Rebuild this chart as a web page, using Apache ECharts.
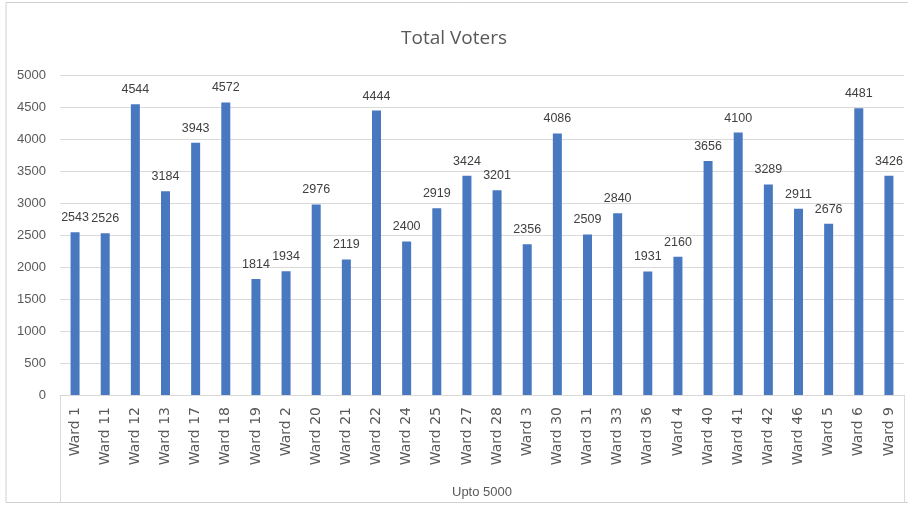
<!DOCTYPE html>
<html>
<head>
<meta charset="utf-8">
<script src="https://cdn.jsdelivr.net/npm/echarts@6/dist/echarts.min.js"></script>
<style>
html,body{margin:0;padding:0;background:#fff;}
#chart{width:908px;height:511px;}
</style>
</head>
<body>
<div id="chart"></div>
<script>
const categories = ['Ward 1','Ward 11','Ward 12','Ward 13','Ward 17','Ward 18','Ward 19','Ward 2','Ward 20','Ward 21','Ward 22','Ward 24','Ward 25','Ward 27','Ward 28','Ward 3','Ward 30','Ward 31','Ward 33','Ward 36','Ward 4','Ward 40','Ward 41','Ward 42','Ward 46','Ward 5','Ward 6','Ward 9'];
const voters = [2543,2526,4544,3184,3943,4572,1814,1934,2976,2119,4444,2400,2919,3424,3201,2356,4086,2509,2840,1931,2160,3656,4100,3289,2911,2676,4481,3426];
const groupLabels = ['Upto 5000'];
const yTicks = {min: 0, max: 5000, interval: 500};

const chart = echarts.init(document.getElementById('chart'));
const FONT = 'Liberation Sans';
chart.setOption({
  animation: false,
  backgroundColor: '#fff',
  title: {
    text: 'Total Voters',
    left: 'center',
    top: 24,
    textStyle: {fontFamily: 'Open Sans', fontSize: 19, fontWeight: 'normal', color: '#595959'}
  },
  grid: {left: 60, right: 4, top: 75, bottom: 116, containLabel: false},
  xAxis: [{
    type: 'category',
    data: categories,
    axisLine: {show: true, lineStyle: {color: '#d9d9d9'}},
    axisTick: {show: false},
    axisLabel: {rotate: 90, interval: 0, fontFamily: 'DejaVu Sans', fontSize: 14, color: '#595959', margin: 12}
  }, {
    type: 'category',
    data: groupLabels,
    position: 'bottom',
    offset: 108,
    axisLine: {show: false},
    axisTick: {show: true, inside: true, length: 108, lineStyle: {color: '#d9d9d9'}},
    axisLabel: {inside: true, margin: 4, fontFamily: FONT, fontSize: 13, color: '#595959'}
  }],
  yAxis: {
    type: 'value',
    min: yTicks.min, max: yTicks.max, interval: yTicks.interval,
    axisLine: {show: false},
    axisTick: {show: false},
    splitLine: {lineStyle: {color: '#d9d9d9'}},
    axisLabel: {fontFamily: FONT, fontSize: 13, color: '#595959', margin: 14, formatter: v => String(v)}
  },
  series: [{
    type: 'bar',
    data: voters,
    barWidth: 9,
    itemStyle: {color: '#4878c0'},
    label: {show: true, position: 'top', distance: 8, fontFamily: FONT, fontSize: 12.5, color: '#404040'}
  }],
  graphic: [{
    type: 'rect',
    shape: {x: 6, y: 2.5, width: 960, height: 500},
    style: {fill: 'none', stroke: '#d0d0d0', lineWidth: 1},
    silent: true
  }]
});
</script>
</body>
</html>
